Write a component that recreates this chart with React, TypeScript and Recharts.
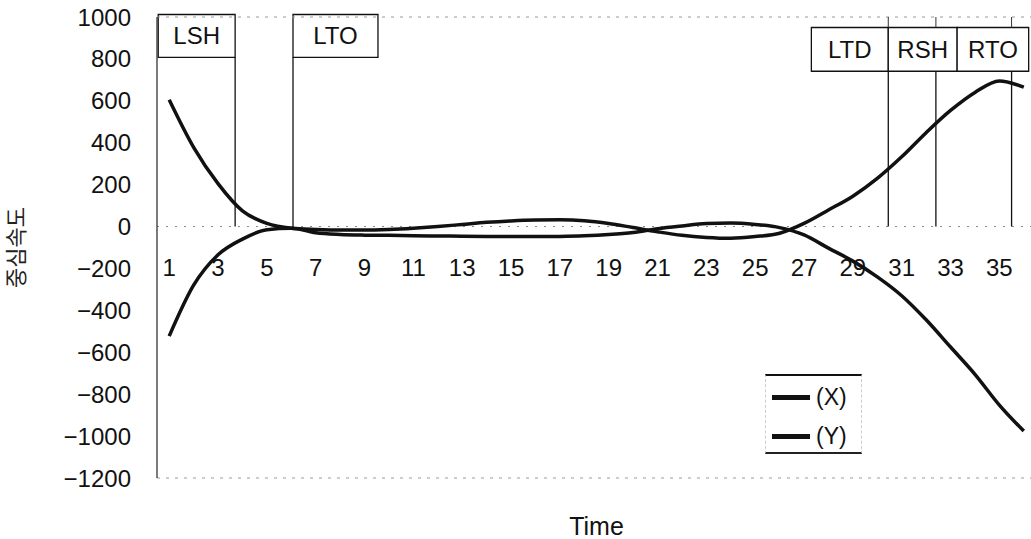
import React from "react";
import {
  LineChart,
  Line,
  XAxis,
  YAxis,
  ReferenceLine,
  ReferenceArea,
  Legend,
} from "recharts";

// time frames and centre velocity (X / Y components)
const times = [
  1, 2, 3, 4, 5, 6, 7, 8, 9, 10, 11, 12, 13, 14, 15, 16, 17, 18, 19, 20, 21,
  22, 23, 24, 25, 26, 27, 28, 29, 30, 31, 32, 33, 34, 35, 36,
];
const velX = [
  605, 378, 205, 75, 15, -8, -14, -17, -17, -14, -8, 0, 10, 20, 27, 31, 32, 28,
  15, -5, -25, -42, -52, -56, -48, -32, 15, 79, 145, 230, 333, 448, 554, 640,
  695, 665,
];
const velY = [
  -523, -280, -135, -60, -15, -8, -30, -38, -41, -42, -44, -45, -46, -47, -48,
  -48, -47, -44, -38, -28, -10, 3, 14, 17, 10, -5, -40, -103, -165, -240, -330,
  -445, -575, -705, -852, -976,
];
const xTicks = [1, 3, 5, 7, 9, 11, 13, 15, 17, 19, 21, 23, 25, 27, 29, 31, 33, 35];
const yTicks = [-1200, -1000, -800, -600, -400, -200, 0, 200, 400, 600, 800, 1000];

// gait events: label, time of event, box span (time), box span (velocity)
const events = [
  { name: "LSH", t: 3.7, box: [0.55, 3.7], boxY: [807, 1012] },
  { name: "LTO", t: 6.07, box: [6.07, 9.55], boxY: [807, 1012] },
  { name: "LTD", t: 30.45, box: [27.3, 30.45], boxY: [741, 950] },
  { name: "RSH", t: 32.4, box: [30.45, 33.27], boxY: [741, 950] },
  { name: "RTO", t: 35.5, box: [33.27, 36.2], boxY: [741, 950] },
];

const data = times.map((t, i) => ({ t, x: velX[i], y: velY[i] }));

const W = 1040;
const H = 539;
const TOP = 17;
const BOTTOM_AXIS = 61;
const Y_MIN = -1200;
const Y_MAX = 1000;
const PLOT_H = H - TOP - BOTTOM_AXIS;
const ZERO_Y = TOP + (PLOT_H * Y_MAX) / (Y_MAX - Y_MIN);
const FONT = "'Liberation Sans', Arial, 'Noto Sans CJK KR', sans-serif";

const fmt = (v: number) => (v < 0 ? "\u2212" + Math.abs(v) : String(v));

function TimeTick(props: any) {
  const { x, payload } = props;
  return (
    <text x={x} y={ZERO_Y + 49} textAnchor="middle" fontSize={24} fill="#111">
      {payload.value}
    </text>
  );
}

function LegendBox(props: any) {
  const items = props.payload || [];
  return (
    <div
      style={{
        width: 97,
        height: 80,
        boxSizing: "border-box",
        borderTop: "2px solid #111",
        borderBottom: "2px solid #222",
        borderLeft: "1px dashed #ccc",
        borderRight: "1px dashed #ccc",
        paddingTop: 2,
        paddingLeft: 6,
      }}
    >
      {items.map((it: any) => (
        <div
          key={it.value}
          style={{ display: "flex", alignItems: "center", height: 39 }}
        >
          <span
            style={{
              display: "inline-block",
              width: 38,
              height: 5,
              background: "#111",
              marginRight: 6,
            }}
          />
          <span style={{ fontSize: 23, color: "#111", fontFamily: FONT }}>
            {it.value}
          </span>
        </div>
      ))}
    </div>
  );
}

export default function App() {
  return (
    <div
      style={{
        position: "absolute",
        left: 0,
        top: 0,
        width: 1031,
        height: H,
        overflow: "hidden",
        background: "#fff",
        fontFamily: FONT,
      }}
    >
      <LineChart
        width={W}
        height={H}
        data={data}
        margin={{ top: TOP, right: 4, bottom: 0, left: 0 }}
      >
        <XAxis
          dataKey="t"
          type="number"
          domain={[0.5, 36.5]}
          ticks={xTicks}
          interval={0}
          height={BOTTOM_AXIS}
          axisLine={false}
          tickLine={false}
          tick={<TimeTick />}
          label={{
            value: "Time",
            position: "insideBottom",
            offset: 4,
            fontSize: 25,
            fill: "#111",
          }}
        />
        <YAxis
          domain={[Y_MIN, Y_MAX]}
          ticks={yTicks}
          interval={0}
          width={157}
          tickLine={false}
          tickMargin={20}
          tickFormatter={fmt}
          tick={{ fontSize: 24, fill: "#111" }}
          axisLine={{ stroke: "#333", strokeWidth: 1.3 }}
          label={{
            value: "중심속도",
            angle: -90,
            position: "insideLeft",
            offset: 16,
            fontSize: 22,
            fill: "#222",
            style: { textAnchor: "middle", fill: "#222" },
          }}
        />
        <ReferenceLine y={Y_MAX} stroke="#999" strokeDasharray="3 6" />
        <ReferenceLine y={Y_MIN} stroke="#999" strokeDasharray="3 6" />
        <ReferenceLine y={0} stroke="#888" strokeDasharray="2 7" />
        {events.map((e) => (
          <ReferenceLine
            key={e.name + "-l"}
            segment={[
              { x: e.t, y: 0 },
              { x: e.t, y: e.boxY[0] },
            ]}
            stroke="#111"
            strokeWidth={1.3}
            ifOverflow="visible"
          />
        ))}
        {events
          .filter((e) => e.boxY[1] < Y_MAX)
          .map((e) => (
            <ReferenceLine
              key={e.name + "-top"}
              segment={[
                { x: e.t, y: e.boxY[1] },
                { x: e.t, y: Y_MAX },
              ]}
              stroke="#333"
              strokeWidth={1}
              ifOverflow="visible"
            />
          ))}
        {events.map((e) => (
          <ReferenceArea
            key={e.name}
            x1={e.box[0]}
            x2={e.box[1]}
            y1={e.boxY[0]}
            y2={e.boxY[1]}
            fill="#fff"
            fillOpacity={1}
            stroke="#111"
            strokeWidth={1.3}
            ifOverflow="visible"
            label={{
              value: e.name,
              position: "center",
              fontSize: 24,
              fill: "#111",
            }}
          />
        ))}
        <Line
          type="monotone"
          dataKey="x"
          name="(X)"
          stroke="#111"
          strokeWidth={3.5}
          dot={false}
          isAnimationActive={false}
        />
        <Line
          type="monotone"
          dataKey="y"
          name="(Y)"
          stroke="#111"
          strokeWidth={3.5}
          dot={false}
          isAnimationActive={false}
        />
        <Legend
          layout="horizontal"
          verticalAlign="middle"
          align="center"
          content={<LegendBox />}
          wrapperStyle={{ position: "absolute", left: 765, top: 374, width: 97 }}
        />
      </LineChart>
    </div>
  );
}
